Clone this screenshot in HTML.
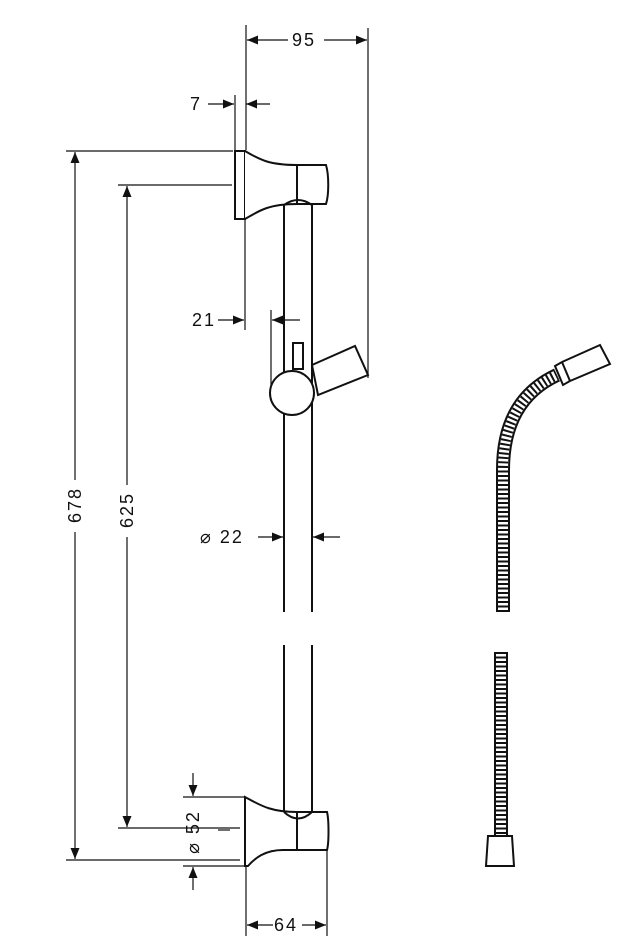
<!DOCTYPE html>
<html><head><style>body{margin:0;background:#fff}svg{display:block}text{font-family:"Liberation Sans",sans-serif;font-size:18px;letter-spacing:2px;fill:#111}</style></head>
<body>
<svg width="635" height="950" viewBox="0 0 635 950" xmlns="http://www.w3.org/2000/svg">
<defs><marker id="a" markerWidth="11" markerHeight="9" refX="11" refY="4.5" orient="auto" markerUnits="userSpaceOnUse"><path d="M0,0L11,4.5L0,9z" fill="#111"/></marker></defs>
<g stroke="#111" stroke-width="1.2" fill="none">
<line x1="246" y1="25" x2="246" y2="150"/>
<line x1="368" y1="28" x2="368" y2="378"/>
<line x1="288" y1="40" x2="247" y2="40" marker-end="url(#a)"/>
<line x1="324" y1="40" x2="367" y2="40" marker-end="url(#a)"/>
<line x1="235" y1="95" x2="235" y2="150"/>
<line x1="208" y1="104" x2="234" y2="104" marker-end="url(#a)"/>
<line x1="270" y1="104" x2="246" y2="104" marker-end="url(#a)"/>
<line x1="245" y1="220" x2="245" y2="330"/>
<line x1="271" y1="310" x2="271" y2="398"/>
<line x1="218" y1="320" x2="244" y2="320" marker-end="url(#a)"/>
<line x1="300" y1="320" x2="272" y2="320" marker-end="url(#a)"/>
<line x1="258" y1="537" x2="283" y2="537" marker-end="url(#a)"/>
<line x1="340" y1="537" x2="313" y2="537" marker-end="url(#a)"/>
<line x1="66" y1="151" x2="233" y2="151"/>
<line x1="118" y1="185" x2="232" y2="185"/>
<line x1="118" y1="828" x2="240" y2="828"/>
<line x1="66" y1="860" x2="240" y2="860"/>
<line x1="75" y1="480" x2="75" y2="152" marker-end="url(#a)"/>
<line x1="75" y1="532" x2="75" y2="859" marker-end="url(#a)"/>
<line x1="127" y1="485" x2="127" y2="186" marker-end="url(#a)"/>
<line x1="127" y1="537" x2="127" y2="827" marker-end="url(#a)"/>
<line x1="183" y1="797" x2="245" y2="797"/>
<line x1="183" y1="866" x2="245" y2="866"/>
<line x1="193" y1="773" x2="193" y2="796" marker-end="url(#a)"/>
<line x1="193" y1="890" x2="193" y2="867" marker-end="url(#a)"/>
<line x1="218" y1="830" x2="230" y2="830"/>
<line x1="246" y1="866" x2="246" y2="936"/>
<line x1="327" y1="850" x2="327" y2="936"/>
<line x1="273" y1="925" x2="247" y2="925" marker-end="url(#a)"/>
<line x1="302" y1="925" x2="326" y2="925" marker-end="url(#a)"/>
</g>
<g stroke="#111" stroke-width="2" fill="#fff">
<line x1="284" y1="200" x2="284" y2="612"/><line x1="312" y1="200" x2="312" y2="612"/>
<line x1="284" y1="645" x2="284" y2="815"/><line x1="312" y1="645" x2="312" y2="815"/>
<rect x="235" y="151" width="10" height="68"/>
<path d="M245,151 C260,160 270,165 297,165 L326,165 C329,175 329,195 326,204 L297,204 C270,204 260,210 245,219"/>
<line x1="297" y1="165" x2="297" y2="204"/>
<path d="M284,205 Q298,195 312,205" fill="none"/>
<rect x="293" y="343" width="10" height="26"/>
<path d="M312,365 L355,346 L368,375 L318,395 Z"/>
<circle cx="292" cy="393" r="22"/>
<path d="M245,797 C260,805 270,812 297,812 L327,812 C329,820 329,843 327,850 L297,850 L283,850 C265,850 255,858 248,866 L245,866 Z"/>
<line x1="297" y1="812" x2="297" y2="850"/>
<path d="M284,812 Q298,825 312,812" fill="none"/>
</g>
<g fill="none">
<path d="M503,612 L503,470 Q503,400 557,375" stroke="#111" stroke-width="14"/>
<path d="M503,612 L503,470 Q503,400 557,375" stroke="#fff" stroke-width="10"/>
<path d="M503,612 L503,470 Q503,400 557,375" stroke="#111" stroke-width="10" stroke-dasharray="2 2.5"/>
<path d="M501,652 L501,836" stroke="#111" stroke-width="14"/>
<path d="M501,652 L501,836" stroke="#fff" stroke-width="10"/>
<path d="M501,652 L501,836" stroke="#111" stroke-width="10" stroke-dasharray="2 2.5"/>
<path d="M555,366 L562,362 L570,381 L563,385 Z M562,362 L600,345 L610,364 L570,381" stroke="#111" stroke-width="2" fill="#fff"/>
<path d="M488,836 L512,836 L514,866 L486,866 Z" stroke="#111" stroke-width="2" fill="#fff"/>
</g>
<text x="292" y="46">95</text>
<text x="190" y="110">7</text>
<text x="192" y="326">21</text>
<text x="200" y="543">⌀ 22</text>
<text x="274" y="931">64</text>
<text transform="translate(81,505) rotate(-90)" text-anchor="middle">678</text>
<text transform="translate(133,510) rotate(-90)" text-anchor="middle">625</text>
<text transform="translate(199,832) rotate(-90)" text-anchor="middle">⌀ 52</text>
</svg>
</body></html>
